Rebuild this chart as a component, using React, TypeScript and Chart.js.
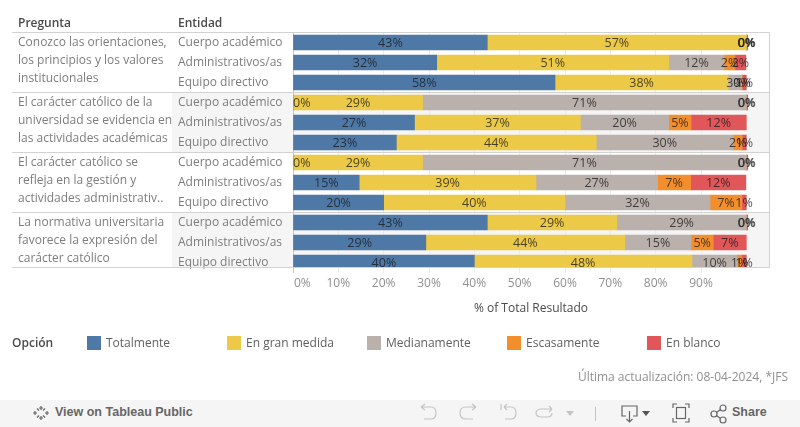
import React, { useEffect, useRef } from "react";
import { Chart, registerables } from "chart.js";

Chart.register(...registerables);

const FONT = "'Open Sans'";

const entities = ["Cuerpo académico", "Administrativos/as", "Equipo directivo"];
const categories = [...entities, ...entities, ...entities, ...entities];

const questions = [
  ["Conozco las orientaciones,", "los principios y los valores", "institucionales"],
  ["El carácter católico de la", "universidad se evidencia en", "las actividades académicas"],
  ["El carácter católico se", "refleja en la gestión y", "actividades administrativ.."],
  ["La normativa universitaria", "favorece la expresión del", "carácter católico"],
];

const totalmente = [42.86, 31.7, 57.8, 0, 26.8, 22.8, 0, 14.6, 20, 42.86, 29.3, 40];
const enGranMedida = [57.14, 51.2, 38.2, 28.57, 36.6, 44.1, 28.57, 39, 40, 28.57, 43.9, 48];
const medianamente = [0, 12.2, 3, 71.43, 19.5, 30.2, 71.43, 26.8, 32, 28.57, 14.6, 10];
const escasamente = [0, 2.4, 0.1, 0, 4.9, 2, 0, 7.3, 7, 0, 4.9, 1];
const enBlanco = [0.3, 2.4, 0.9, 0.3, 12.2, 0.9, 0.3, 12.2, 1, 0.3, 7.3, 1];

const seriesNames = ["Totalmente", "En gran medida", "Medianamente", "Escasamente", "En blanco"];
const seriesValues = [totalmente, enGranMedida, medianamente, escasamente, enBlanco];
const seriesColors = ["#4e79a7", "#edc948", "#bab0ac", "#f28e2b", "#e15759"];

const LINE = "#d2d2d2";
const CLIP_BOTTOM = 267;

const paperPlugin = {
  id: "paper",
  beforeDraw(chart: any) {
    const { ctx, chartArea } = chart;
    ctx.save();
    ctx.fillStyle = "#f5f5f5";
    ctx.fillRect(172, 93, chartArea.right - 172, 59);
    ctx.fillRect(172, 213, chartArea.right - 172, CLIP_BOTTOM - 213);
    ctx.restore();
  },
  afterDatasetsDraw(chart: any) {
    const { ctx, chartArea } = chart;
    ctx.save();
    // value labels
    ctx.beginPath();
    ctx.rect(0, chartArea.top, 800, CLIP_BOTTOM - chartArea.top);
    ctx.clip();
    ctx.font = `12.5px ${FONT}`;
    ctx.fillStyle = "rgba(25,25,25,0.78)";
    ctx.textAlign = "center";
    ctx.textBaseline = "middle";
    chart.data.datasets.forEach((ds: any, d: number) => {
      const meta = chart.getDatasetMeta(d);
      meta.data.forEach((el: any, i: number) => {
        const text = Math.round(ds.data[i]) + "%";
        const half = ctx.measureText(text).width / 2;
        const x = Math.max((el.x + el.base) / 2, chartArea.left + half);
        ctx.fillText(text, x, el.y + 0.5);
      });
    });
    ctx.restore();

    // separators and frame
    ctx.save();
    ctx.strokeStyle = LINE;
    ctx.lineWidth = 1;
    ctx.beginPath();
    [32.5, 92.5, 152.5, 212.5, 267.5].forEach((y) => {
      ctx.moveTo(12, y);
      ctx.lineTo(769.5, y);
    });
    ctx.moveTo(769.5, 32.5);
    ctx.lineTo(769.5, 267.5);
    ctx.stroke();
    ctx.restore();
  },
  afterDraw(chart: any) {
    const { ctx } = chart;
    ctx.save();
    ctx.textBaseline = "middle";
    ctx.textAlign = "left";

    // headers
    ctx.font = `600 12px ${FONT}`;
    ctx.fillStyle = "#4a4a4a";
    ctx.fillText("Pregunta", 18, 24);
    ctx.fillText("Entidad", 178, 24);

    // question column
    ctx.font = `12px ${FONT}`;
    ctx.fillStyle = "#7d7d7d";
    questions.forEach((lines, q) => {
      lines.forEach((line, l) => {
        ctx.fillText(line, 18, 43 + q * 60 + l * 18);
      });
    });

    // legend
    ctx.font = `600 12px ${FONT}`;
    ctx.fillStyle = "#4a4a4a";
    ctx.fillText("Opción", 12, 343.5);
    ctx.font = `12px ${FONT}`;
    seriesNames.forEach((name, i) => {
      const x = 87 + i * 140;
      ctx.fillStyle = seriesColors[i];
      ctx.fillRect(x, 336, 14, 14);
      ctx.fillStyle = "#5f5f5f";
      ctx.fillText(name, x + 19, 343.5);
    });

    // footnote
    ctx.fillStyle = "#8f8f8f";
    ctx.textAlign = "right";
    ctx.fillText("Última actualización: 08-04-2024, *JFS", 788, 377.5);
    ctx.restore();
  },
};

const iconStroke = { fill: "none", stroke: "#c4c4c4", strokeWidth: 1.2 };
const darkStroke = { fill: "none", stroke: "#666", strokeWidth: 1.2 };

function Toolbar() {
  return (
    <div style={{ position: "absolute", left: 0, top: 400, width: 800, height: 27, background: "#f5f5f5" }}>
      <svg width={800} height={27} style={{ position: "absolute", left: 0, top: 0 }}>
        <g {...darkStroke} strokeDasharray="2 1.5">
          <path d="M41 3V23M34 7.5L48 18.5M48 7.5L34 18.5" stroke="none" />
          <path d="M41 6V10M39 8H43M41 16V20M39 18H43M35 11V15M33 13H37M47 11V15M45 13H49M37 8.5L39 10.5M45 8.5L43 10.5M37 17.5L39 15.5M45 17.5L43 15.5" strokeDasharray="none" />
        </g>
        <path d="M421 7H431Q436 7 436 13T431 19H424M421 7L425 4M421 7L425 10" {...iconStroke} />
        <path d="M476 7H466Q460 7 460 13T466 19H473M476 7L472 4M476 7L472 10" {...iconStroke} />
        <path d="M501 4V10M504 7H511Q516 7 516 13T511 19H505M504 7L507 4M504 7L507 10" {...iconStroke} />
        <path d="M552 9H542Q536 9 536 13T542 17H547Q552 17 552 13M552 9L549 6M552 9L549 12" {...iconStroke} />
        <path d="M566 11H574L570 16Z" fill="#c4c4c4" />
        <path d="M595.5 7V21" stroke="#c4c4c4" />
        <path d="M626 16H622V6H637V16H633M629.5 11V22M626.5 19L629.5 22L632.5 19" {...darkStroke} />
        <path d="M642 11H650L646 16Z" fill="#555" />
        <path d="M673 8V4H677M685 4H689V8M689 18V22H685M677 22H673V18" {...darkStroke} />
        <rect x={676.5} y={7.5} width={9} height={11} {...darkStroke} />
        <circle cx={714} cy={14} r={3} {...darkStroke} />
        <circle cx={723} cy={8} r={3} {...darkStroke} />
        <circle cx={723} cy={20} r={3} {...darkStroke} />
        <path d="M716.5 12.5L720.5 9.5M716.5 15.5L720.5 18.5" {...darkStroke} />
      </svg>
      <span style={{ position: "absolute", left: 55, top: 5, font: "600 12.5px 'Liberation Sans'", color: "#666", whiteSpace: "nowrap" }}>
        View on Tableau Public
      </span>
      <span style={{ position: "absolute", left: 732, top: 5, font: "600 12.5px 'Liberation Sans'", color: "#666", whiteSpace: "nowrap" }}>
        Share
      </span>
    </div>
  );
}

export default function App() {
  const ref = useRef<HTMLCanvasElement | null>(null);

  useEffect(() => {
    document.body.style.margin = "0";
    const chart = new Chart(ref.current as HTMLCanvasElement, {
      type: "bar",
      data: {
        labels: categories,
        datasets: seriesNames.map((name, i) => ({
          label: name,
          data: seriesValues[i],
          backgroundColor: seriesColors[i],
          barThickness: 15,
          borderWidth: 0,
          clip: { left: 0, top: 0, right: 0, bottom: -5.5 },
        })),
      } as any,
      options: {
        indexAxis: "y",
        animation: false,
        responsive: false,
        layout: { padding: { left: 178, right: 31, top: 32.5, bottom: 110.8 } },
        plugins: { legend: { display: false }, tooltip: { enabled: false } },
        scales: {
          x: {
            stacked: true,
            min: 0,
            max: 105,
            afterBuildTicks: (scale: any) => {
              scale.ticks = scale.ticks.filter((t: any) => t.value <= 100);
            },
            afterFit: (scale: any) => {
              scale.height = 43.7;
            },
            border: { display: false },
            grid: { color: "#ececec", drawTicks: false },
            ticks: {
              stepSize: 10,
              padding: 4,
              maxRotation: 0,
              autoSkip: false,
              color: "#8f8f8f",
              font: { family: FONT, size: 12 },
              callback: (v: any) => (v === 0 ? "\u00A0\u00A0\u00A0\u00A0\u00A0\u00A00%" : v + "%"),
            },
            title: {
              display: true,
              text: "% of Total Resultado",
              color: "#4a4a4a",
              padding: 0,
              font: { family: FONT, size: 12 },
            },
          },
          y: {
            stacked: true,
            afterFit: (scale: any) => {
              scale.width = 115;
            },
            border: { display: true, color: "#c8c8c8" },
            grid: { display: false },
            ticks: {
              autoSkip: false,
              crossAlign: "far",
              color: "#7d7d7d",
              font: { family: FONT, size: 12 },
            },
          },
        },
      } as any,
      plugins: [paperPlugin],
    });
    return () => chart.destroy();
  }, []);

  return (
    <div style={{ position: "relative", width: 800, height: 427, overflow: "hidden", background: "#fff" }}>
      <canvas ref={ref} width={800} height={427} style={{ display: "block" }} />
      <Toolbar />
    </div>
  );
}
